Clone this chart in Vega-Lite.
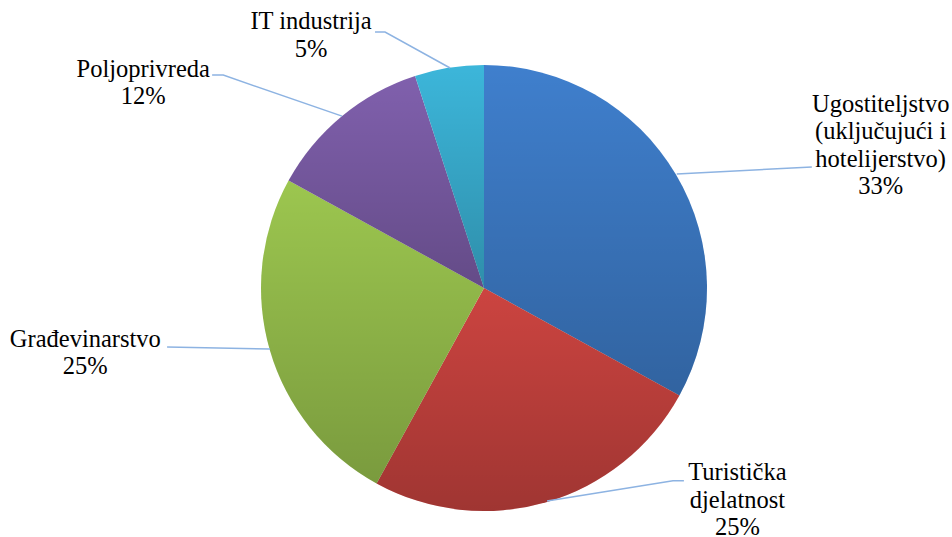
{
  "$schema": "https://vega.github.io/schema/vega-lite/v6.json",
  "width": 936,
  "height": 498,
  "padding": {"left": 16, "top": 39, "right": 0, "bottom": 0},
  "autosize": {"type": "none"},
  "background": "white",
  "config": {"view": {"stroke": null}},
  "datasets": {
    "slices": [
      {"sektor": "Ugostiteljstvo (uključujući i hotelijerstvo)", "udio": 33, "ord": 1, "label": "Ugostiteljstvo\n(uključujući i\nhotelijerstvo)\n33%", "lx": 1.78, "ly": 0.821},
      {"sektor": "Turistička djelatnost", "udio": 25, "ord": 2, "label": "Turistička\ndjelatnost\n25%", "lx": 1.137, "ly": -0.83},
      {"sektor": "Građevinarstvo", "udio": 25, "ord": 3, "label": "Građevinarstvo\n25%", "lx": -1.789, "ly": -0.233},
      {"sektor": "Poljoprivreda", "udio": 12, "ord": 4, "label": "Poljoprivreda\n12%", "lx": -1.529, "ly": 0.978},
      {"sektor": "IT industrija", "udio": 5, "ord": 5, "label": "IT industrija\n5%", "lx": -0.776, "ly": 1.193}
    ],
    "leaders": [
      {"sektor": "IT industrija", "i": 1, "px": -0.489, "py": 1.148},
      {"sektor": "IT industrija", "i": 2, "px": -0.444, "py": 1.148},
      {"sektor": "IT industrija", "i": 3, "px": -0.152, "py": 0.987},
      {"sektor": "Poljoprivreda", "i": 1, "px": -1.22, "py": 0.955},
      {"sektor": "Poljoprivreda", "i": 2, "px": -1.17, "py": 0.955},
      {"sektor": "Poljoprivreda", "i": 3, "px": -0.637, "py": 0.771},
      {"sektor": "Ugostiteljstvo", "i": 1, "px": 0.865, "py": 0.511},
      {"sektor": "Ugostiteljstvo", "i": 2, "px": 1.471, "py": 0.543},
      {"sektor": "Turistička", "i": 1, "px": 0.283, "py": -0.955},
      {"sektor": "Turistička", "i": 2, "px": 0.848, "py": -0.865},
      {"sektor": "Turistička", "i": 3, "px": 0.897, "py": -0.865},
      {"sektor": "Građevinarstvo", "i": 1, "px": -1.422, "py": -0.265},
      {"sektor": "Građevinarstvo", "i": 2, "px": -0.96, "py": -0.274}
    ]
  },
  "layer": [
    {
      "data": {"name": "slices"},
      "mark": {"type": "arc", "outerRadius": 223},
      "encoding": {
        "theta": {"field": "udio", "type": "quantitative", "stack": true},
        "order": {"field": "ord", "type": "quantitative", "sort": "ascending"},
        "color": {
          "field": "sektor",
          "type": "nominal",
          "legend": null,
          "scale": {
            "domain": ["Ugostiteljstvo (uključujući i hotelijerstvo)", "Turistička djelatnost", "Građevinarstvo", "Poljoprivreda", "IT industrija"],
            "range": ["#3f7fcd", "#cc4440", "#9cc64f", "#8060ad", "#3cb6da"]
          }
        }
      }
    },
    {
      "data": {"name": "slices"},
      "mark": {"type": "arc", "outerRadius": 223, "fill": {"gradient": "linear", "x1": 0, "y1": 0, "x2": 0, "y2": 1, "stops": [{"offset": 0, "color": "rgba(0,0,0,0)"}, {"offset": 1, "color": "rgba(0,0,0,0.22)"}]}},
      "encoding": {
        "theta": {"field": "udio", "type": "quantitative", "stack": true},
        "order": {"field": "ord", "type": "quantitative", "sort": "ascending"}
      }
    },
    {
      "data": {"name": "leaders"},
      "mark": {"type": "line", "color": "#8db3e2", "strokeWidth": 1.5},
      "encoding": {
        "x": {"field": "px", "type": "quantitative", "axis": null, "scale": {"domain": [-2.1, 2.1], "nice": false, "zero": false}},
        "y": {"field": "py", "type": "quantitative", "axis": null, "scale": {"domain": [-1.117, 1.117], "nice": false, "zero": false}},
        "detail": {"field": "sektor"},
        "order": {"field": "i", "type": "quantitative"}
      }
    },
    {
      "data": {"name": "slices"},
      "mark": {"type": "text", "font": "'Liberation Serif', 'Times New Roman', serif", "fontSize": 24.5, "lineHeight": 27.5, "lineBreak": "\n", "align": "center", "baseline": "middle", "color": "black"},
      "encoding": {
        "x": {"field": "lx", "type": "quantitative", "axis": null, "scale": {"domain": [-2.1, 2.1], "nice": false, "zero": false}},
        "y": {"field": "ly", "type": "quantitative", "axis": null, "scale": {"domain": [-1.117, 1.117], "nice": false, "zero": false}},
        "text": {"field": "label"}
      }
    }
  ]
}
